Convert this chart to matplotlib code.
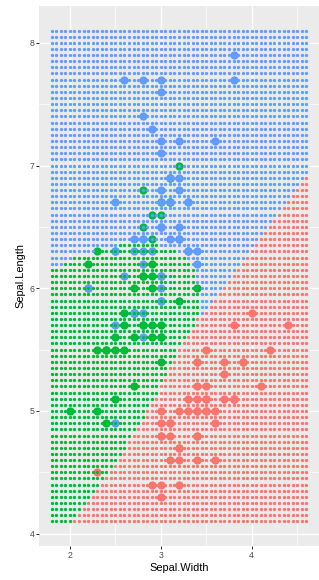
import numpy as np
import matplotlib.pyplot as plt

plt.rcParams['font.family'] = ['Liberation Sans', 'DejaVu Sans']

# iris data: Sepal.Width / Sepal.Length per species
setosa_width = [3.5, 3.0, 3.2, 3.1, 3.6, 3.9, 3.4, 3.4, 2.9, 3.1, 3.7, 3.4, 3.0, 3.0, 4.0, 4.4, 3.9,
                3.5, 3.8, 3.8, 3.4, 3.7, 3.6, 3.3, 3.4, 3.0, 3.4, 3.5, 3.4, 3.2, 3.1, 3.4, 4.1, 4.2,
                3.1, 3.2, 3.5, 3.6, 3.0, 3.4, 3.5, 2.3, 3.2, 3.5, 3.8, 3.0, 3.8, 3.2, 3.7, 3.3]
setosa_length = [5.1, 4.9, 4.7, 4.6, 5.0, 5.4, 4.6, 5.0, 4.4, 4.9, 5.4, 4.8, 4.8, 4.3, 5.8, 5.7, 5.4,
                 5.1, 5.7, 5.1, 5.4, 5.1, 4.6, 5.1, 4.8, 5.0, 5.0, 5.2, 5.2, 4.7, 4.8, 5.4, 5.2, 5.5,
                 4.9, 5.0, 5.5, 4.9, 4.4, 5.1, 5.0, 4.5, 4.4, 5.0, 5.1, 4.8, 5.1, 4.6, 5.3, 5.0]
versicolor_width = [3.2, 3.2, 3.1, 2.3, 2.8, 2.8, 3.3, 2.4, 2.9, 2.7, 2.0, 3.0, 2.2, 2.9, 2.9, 3.1, 3.0,
                    2.7, 2.2, 2.5, 3.2, 2.8, 2.5, 2.8, 2.9, 3.0, 2.8, 3.0, 2.9, 2.6, 2.4, 2.4, 2.7, 2.7,
                    3.0, 3.4, 3.1, 2.3, 3.0, 2.5, 2.6, 3.0, 2.6, 2.3, 2.7, 3.0, 2.9, 2.9, 2.5, 2.8]
versicolor_length = [7.0, 6.4, 6.9, 5.5, 6.5, 5.7, 6.3, 4.9, 6.6, 5.2, 5.0, 5.9, 6.0, 6.1, 5.6, 6.7, 5.6,
                     5.8, 6.2, 5.6, 5.9, 6.1, 6.3, 6.1, 6.4, 6.6, 6.8, 6.7, 6.0, 5.7, 5.5, 5.5, 5.8, 6.0,
                     5.4, 6.0, 6.7, 6.3, 5.6, 5.5, 5.5, 6.1, 5.8, 5.0, 5.6, 5.7, 5.7, 6.2, 5.1, 5.7]
virginica_width = [3.3, 2.7, 3.0, 2.9, 3.0, 3.0, 2.5, 2.9, 2.5, 3.6, 3.2, 2.7, 3.0, 2.5, 2.8, 3.2, 3.0,
                   3.8, 2.6, 2.2, 3.2, 2.8, 2.8, 2.7, 3.3, 3.2, 2.8, 3.0, 2.8, 3.0, 2.8, 3.8, 2.8, 2.8,
                   2.6, 3.0, 3.4, 3.1, 3.0, 3.1, 3.1, 3.1, 2.7, 3.2, 3.3, 3.0, 2.5, 3.0, 3.4, 3.0]
virginica_length = [6.3, 5.8, 7.1, 6.3, 6.5, 7.6, 4.9, 7.3, 6.7, 7.2, 6.5, 6.4, 6.8, 5.7, 5.8, 6.4, 6.5,
                    7.7, 7.7, 6.0, 6.9, 5.6, 7.7, 6.3, 6.7, 7.2, 6.2, 6.1, 6.4, 7.2, 7.4, 7.9, 6.4, 6.3,
                    6.1, 7.7, 6.3, 6.4, 6.0, 6.9, 6.7, 6.9, 5.8, 6.8, 6.7, 6.7, 6.3, 6.5, 6.2, 5.9]

species_colors = {'setosa': '#F8766D', 'versicolor': '#00BA38', 'virginica': '#619CFF'}

# prediction grid (step 0.05) and class borders
grid_x = np.round(np.arange(1.8, 4.6 + 1e-9, 0.05), 2)
grid_y = np.round(np.arange(4.1, 8.1 + 1e-9, 0.05), 2)

# setosa border: x where setosa starts, per Sepal.Length
red_border_y = [4.10, 4.50, 5.00, 5.40, 5.75, 5.95, 6.30, 6.85, 6.95]
red_border_x = [2.04, 2.44, 2.85, 3.12, 3.40, 3.63, 3.98, 4.53, 4.63]
# top of the versicolor region, per Sepal.Width
green_top_x = [1.80, 1.95, 2.05, 2.30, 2.55, 2.95, 3.15, 3.25, 3.35, 3.42, 3.45]
green_top_y = [6.15, 6.20, 6.25, 6.30, 6.35, 6.35, 6.30, 6.25, 6.15, 6.00, 5.75]

GX, GY = np.meshgrid(grid_x, grid_y)
red_edge = np.interp(GY, red_border_y, red_border_x)
green_top = np.interp(GX, green_top_x, green_top_y)
pred = np.where(GX >= red_edge - 1e-6, 'setosa',
                np.where(GY <= green_top + 1e-6, 'versicolor', 'virginica'))

fig = plt.figure(figsize=(319 / 72, 580 / 72), dpi=72)
ax = fig.add_axes([39 / 319, 34 / 580, 280 / 319, 540 / 580])
ax.set_facecolor('#EBEBEB')

# observations (big) under the grid
for name, w, l in [('setosa', setosa_width, setosa_length),
                   ('versicolor', versicolor_width, versicolor_length),
                   ('virginica', virginica_width, virginica_length)]:
    ax.scatter(w, l, s=68, color=species_colors[name], linewidths=0, zorder=2)

for name in ['setosa', 'versicolor', 'virginica']:
    m = pred == name
    ax.scatter(GX[m], GY[m], s=11, color=species_colors[name], linewidths=0, zorder=3)

ax.set_xlim(1.66, 4.74)
ax.set_ylim(3.9, 8.3)
ax.set_xticks([2, 3, 4])
ax.set_yticks([4, 5, 6, 7, 8])
ax.set_xticks([2.5, 3.5, 4.5], minor=True)
ax.set_yticks([4.5, 5.5, 6.5, 7.5], minor=True)
ax.grid(True, which='major', color='white', linewidth=1.4, zorder=0)
ax.grid(True, which='minor', color='white', linewidth=0.7, zorder=0)
ax.set_axisbelow(True)
for s in ax.spines.values():
    s.set_visible(False)
ax.tick_params(which='major', length=2.75, width=1.0, color='#333333',
               labelsize=8.8, labelcolor='#4D4D4D', pad=2)
ax.tick_params(which='minor', length=0)
ax.set_xlabel('Sepal.Width', fontsize=11, labelpad=3)
ax.set_ylabel('Sepal.Length', fontsize=11, labelpad=4)

fig.savefig('out.png', dpi=72)
